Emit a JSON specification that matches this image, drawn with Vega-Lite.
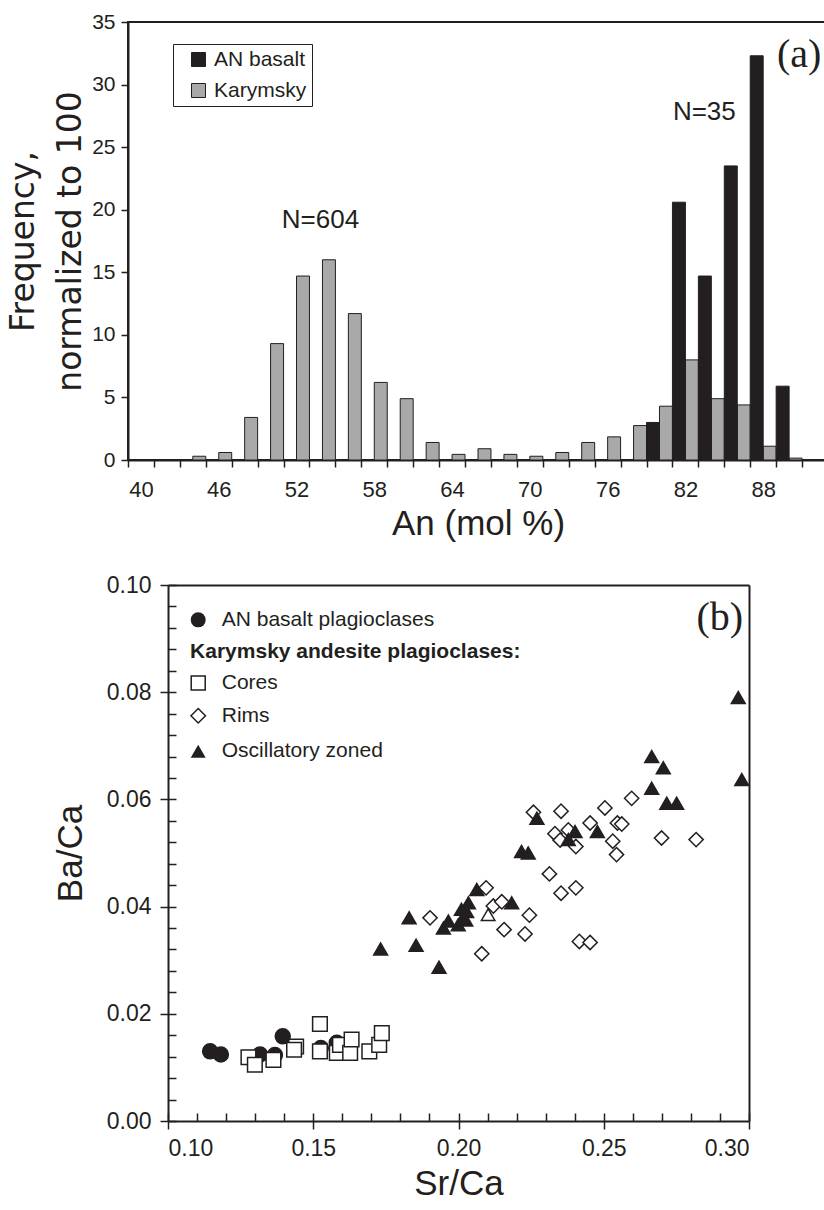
{
  "$schema": "https://vega.github.io/schema/vega-lite/v6.json",
  "background": "white",
  "padding": {"left": 6, "top": 10, "right": 0, "bottom": 0},
  "spacing": 32,
  "columns": 1,
  "resolve": {"scale": {"fill": "independent", "shape": "independent", "size": "independent"}, "legend": {"fill": "independent", "shape": "independent", "size": "independent"}},
  "datasets": {
    "hist": [
      {"An": 44, "series": "Karymsky", "freq": 0.3},
      {"An": 46, "series": "Karymsky", "freq": 0.6},
      {"An": 48, "series": "Karymsky", "freq": 3.4},
      {"An": 50, "series": "Karymsky", "freq": 9.3},
      {"An": 52, "series": "Karymsky", "freq": 14.7},
      {"An": 54, "series": "Karymsky", "freq": 16.0},
      {"An": 56, "series": "Karymsky", "freq": 11.7},
      {"An": 58, "series": "Karymsky", "freq": 6.2},
      {"An": 60, "series": "Karymsky", "freq": 4.9},
      {"An": 62, "series": "Karymsky", "freq": 1.4},
      {"An": 64, "series": "Karymsky", "freq": 0.45},
      {"An": 66, "series": "Karymsky", "freq": 0.9},
      {"An": 68, "series": "Karymsky", "freq": 0.45},
      {"An": 70, "series": "Karymsky", "freq": 0.3},
      {"An": 72, "series": "Karymsky", "freq": 0.6},
      {"An": 74, "series": "Karymsky", "freq": 1.4},
      {"An": 76, "series": "Karymsky", "freq": 1.85},
      {"An": 78, "series": "Karymsky", "freq": 2.75},
      {"An": 80, "series": "Karymsky", "freq": 4.3},
      {"An": 82, "series": "Karymsky", "freq": 8.0},
      {"An": 84, "series": "Karymsky", "freq": 4.9},
      {"An": 86, "series": "Karymsky", "freq": 4.4},
      {"An": 88, "series": "Karymsky", "freq": 1.1},
      {"An": 90, "series": "Karymsky", "freq": 0.15},
      {"An": 80, "series": "AN basalt", "freq": 3.0},
      {"An": 82, "series": "AN basalt", "freq": 20.6},
      {"An": 84, "series": "AN basalt", "freq": 14.7},
      {"An": 86, "series": "AN basalt", "freq": 23.5},
      {"An": 88, "series": "AN basalt", "freq": 32.3},
      {"An": 90, "series": "AN basalt", "freq": 5.9}
    ],
    "scatter": [
      {"type": "AN basalt plagioclases", "SrCa": 0.1145, "BaCa": 0.0130},
      {"type": "AN basalt plagioclases", "SrCa": 0.1182, "BaCa": 0.0124},
      {"type": "AN basalt plagioclases", "SrCa": 0.1317, "BaCa": 0.0124},
      {"type": "AN basalt plagioclases", "SrCa": 0.1368, "BaCa": 0.0123},
      {"type": "AN basalt plagioclases", "SrCa": 0.1395, "BaCa": 0.0158},
      {"type": "AN basalt plagioclases", "SrCa": 0.1526, "BaCa": 0.0136},
      {"type": "AN basalt plagioclases", "SrCa": 0.1581, "BaCa": 0.0146},
      {"type": "Cores", "SrCa": 0.1277, "BaCa": 0.0119},
      {"type": "Cores", "SrCa": 0.1299, "BaCa": 0.0105},
      {"type": "Cores", "SrCa": 0.1363, "BaCa": 0.0114},
      {"type": "Cores", "SrCa": 0.1441, "BaCa": 0.0139},
      {"type": "Cores", "SrCa": 0.1434, "BaCa": 0.0133},
      {"type": "Cores", "SrCa": 0.1523, "BaCa": 0.0181},
      {"type": "Cores", "SrCa": 0.1523, "BaCa": 0.0130},
      {"type": "Cores", "SrCa": 0.1581, "BaCa": 0.0127},
      {"type": "Cores", "SrCa": 0.1592, "BaCa": 0.0142},
      {"type": "Cores", "SrCa": 0.1627, "BaCa": 0.0127},
      {"type": "Cores", "SrCa": 0.1632, "BaCa": 0.0152},
      {"type": "Cores", "SrCa": 0.1693, "BaCa": 0.0130},
      {"type": "Cores", "SrCa": 0.1727, "BaCa": 0.0142},
      {"type": "Cores", "SrCa": 0.1736, "BaCa": 0.0164},
      {"type": "Rims", "SrCa": 0.1902, "BaCa": 0.0379},
      {"type": "Rims", "SrCa": 0.2080, "BaCa": 0.0312},
      {"type": "Rims", "SrCa": 0.2095, "BaCa": 0.0435},
      {"type": "Rims", "SrCa": 0.2120, "BaCa": 0.0401},
      {"type": "Rims", "SrCa": 0.2149, "BaCa": 0.0409},
      {"type": "Rims", "SrCa": 0.2157, "BaCa": 0.0357},
      {"type": "Rims", "SrCa": 0.2229, "BaCa": 0.0349},
      {"type": "Rims", "SrCa": 0.2244, "BaCa": 0.0384},
      {"type": "Rims", "SrCa": 0.2258, "BaCa": 0.0576},
      {"type": "Rims", "SrCa": 0.2313, "BaCa": 0.0461},
      {"type": "Rims", "SrCa": 0.2353, "BaCa": 0.0425},
      {"type": "Rims", "SrCa": 0.2404, "BaCa": 0.0435},
      {"type": "Rims", "SrCa": 0.2416, "BaCa": 0.0335},
      {"type": "Rims", "SrCa": 0.2453, "BaCa": 0.0333},
      {"type": "Rims", "SrCa": 0.2353, "BaCa": 0.0578},
      {"type": "Rims", "SrCa": 0.2332, "BaCa": 0.0536},
      {"type": "Rims", "SrCa": 0.2350, "BaCa": 0.0524},
      {"type": "Rims", "SrCa": 0.2378, "BaCa": 0.0543},
      {"type": "Rims", "SrCa": 0.2404, "BaCa": 0.0512},
      {"type": "Rims", "SrCa": 0.2453, "BaCa": 0.0556},
      {"type": "Rims", "SrCa": 0.2504, "BaCa": 0.0584},
      {"type": "Rims", "SrCa": 0.2531, "BaCa": 0.0522},
      {"type": "Rims", "SrCa": 0.2544, "BaCa": 0.0497},
      {"type": "Rims", "SrCa": 0.2547, "BaCa": 0.0556},
      {"type": "Rims", "SrCa": 0.2562, "BaCa": 0.0554},
      {"type": "Rims", "SrCa": 0.2596, "BaCa": 0.0602},
      {"type": "Rims", "SrCa": 0.2699, "BaCa": 0.0528},
      {"type": "Rims", "SrCa": 0.2818, "BaCa": 0.0525},
      {"type": "Oscillatory zoned", "SrCa": 0.1732, "BaCa": 0.0321},
      {"type": "Oscillatory zoned", "SrCa": 0.1830, "BaCa": 0.0379},
      {"type": "Oscillatory zoned", "SrCa": 0.1854, "BaCa": 0.0328},
      {"type": "Oscillatory zoned", "SrCa": 0.1933, "BaCa": 0.0287},
      {"type": "Oscillatory zoned", "SrCa": 0.1948, "BaCa": 0.0360},
      {"type": "Oscillatory zoned", "SrCa": 0.1965, "BaCa": 0.0373},
      {"type": "Oscillatory zoned", "SrCa": 0.1999, "BaCa": 0.0366},
      {"type": "Oscillatory zoned", "SrCa": 0.2010, "BaCa": 0.0395},
      {"type": "Oscillatory zoned", "SrCa": 0.2016, "BaCa": 0.0379},
      {"type": "Oscillatory zoned", "SrCa": 0.2025, "BaCa": 0.0375},
      {"type": "Oscillatory zoned", "SrCa": 0.2028, "BaCa": 0.0391},
      {"type": "Oscillatory zoned", "SrCa": 0.2034, "BaCa": 0.0407},
      {"type": "Oscillatory zoned", "SrCa": 0.2063, "BaCa": 0.0432},
      {"type": "Oscillatory zoned", "SrCa": 0.2183, "BaCa": 0.0407},
      {"type": "Oscillatory zoned", "SrCa": 0.2217, "BaCa": 0.0503},
      {"type": "Oscillatory zoned", "SrCa": 0.2240, "BaCa": 0.0500},
      {"type": "Oscillatory zoned", "SrCa": 0.2270, "BaCa": 0.0565},
      {"type": "Oscillatory zoned", "SrCa": 0.2378, "BaCa": 0.0525},
      {"type": "Oscillatory zoned", "SrCa": 0.2401, "BaCa": 0.0540},
      {"type": "Oscillatory zoned", "SrCa": 0.2478, "BaCa": 0.0540},
      {"type": "Oscillatory zoned", "SrCa": 0.2665, "BaCa": 0.0680},
      {"type": "Oscillatory zoned", "SrCa": 0.2705, "BaCa": 0.0659},
      {"type": "Oscillatory zoned", "SrCa": 0.2665, "BaCa": 0.0621},
      {"type": "Oscillatory zoned", "SrCa": 0.2717, "BaCa": 0.0593},
      {"type": "Oscillatory zoned", "SrCa": 0.2751, "BaCa": 0.0593},
      {"type": "Oscillatory zoned", "SrCa": 0.2963, "BaCa": 0.0790},
      {"type": "Oscillatory zoned", "SrCa": 0.2975, "BaCa": 0.0637},
      {"type": "Oscillatory zoned (open symbol)", "SrCa": 0.2102, "BaCa": 0.0385}
    ]
  },
  "concat": [
    {
      "width": 700,
      "height": 438,
      "view": {"stroke": "#231f20", "strokeWidth": 2},
      "resolve": {"axis": {"x": "independent", "y": "independent"}},
      "layer": [
        {
          "data": {"name": "hist"},
          "mark": {"type": "bar", "stroke": "#231f20", "strokeWidth": 1},
          "encoding": {
            "x": {
              "field": "An", "type": "ordinal",
              "scale": {"domain": [40,42,44,46,48,50,52,54,56,58,60,62,64,66,68,70,72,74,76,78,80,82,84,86,88,90,92], "paddingInner": 0, "paddingOuter": 0},
              "axis": {
                "orient": "bottom", "title": "An (mol %)", "tickBand": "extent", "labelAngle": 0,
                "labelExpr": "(datum.value - 40) % 6 == 0 && datum.value <= 88 ? datum.label : ''",
                "labelOverlap": false, "tickSize": 7, "tickWidth": 1.5, "domainWidth": 2,
                "labelFontSize": 22, "labelPadding": 12, "titleFontSize": 35, "titlePadding": 6
              }
            },
            "xOffset": {"field": "series", "type": "nominal", "scale": {"domain": ["AN basalt", "Karymsky"], "paddingInner": 0, "paddingOuter": 0}},
            "y": {
              "field": "freq", "type": "quantitative",
              "scale": {"domain": [0, 35], "nice": false},
              "axis": {
                "orient": "left", "title": ["Frequency,", "normalized to 100"], "values": [0,5,10,15,20,25,30,35],
                "tickSize": 7, "tickWidth": 1.5, "domainWidth": 2, "labelFontSize": 21, "labelPadding": 6,
                "titleFont": "DejaVu Sans", "titleFontSize": 33, "titleLineHeight": 47, "titlePadding": 4
              }
            },
            "fill": {
              "field": "series", "type": "nominal",
              "scale": {"domain": ["AN basalt", "Karymsky"], "range": ["#231f20", "#a9a9a9"]},
              "legend": {
                "orient": "none", "legendX": 45, "legendY": 22, "title": null, "direction": "vertical",
                "symbolType": "square", "symbolSize": 196, "symbolStrokeColor": "#231f20", "symbolStrokeWidth": 1,
                "labelFont": "Liberation Sans", "labelFontSize": 21, "labelColor": "#231f20", "labelOffset": 5,
                "rowPadding": 9, "padding": 5, "symbolOffset": 10, "strokeColor": "#231f20", "fillColor": "white", "cornerRadius": 0
              }
            }
          }
        },
        {
          "data": {"name": "hist"},
          "transform": [{"filter": "datum.An == 54 && datum.series == 'Karymsky'"}],
          "mark": {"type": "text", "fontSize": 26, "baseline": "middle", "align": "center", "dx": -2},
          "encoding": {
            "x": {"field": "An", "type": "ordinal", "axis": null},
            "y": {"datum": 19.2, "type": "quantitative", "axis": null},
            "text": {"value": "N=604"}
          }
        },
        {
          "data": {"name": "hist"},
          "transform": [{"filter": "datum.An == 84 && datum.series == 'AN basalt'"}],
          "mark": {"type": "text", "fontSize": 26, "baseline": "middle", "align": "center", "dx": -7},
          "encoding": {
            "x": {"field": "An", "type": "ordinal", "axis": null},
            "y": {"datum": 27.8, "type": "quantitative", "axis": null},
            "text": {"value": "N=35"}
          }
        },
        {
          "data": {"name": "hist"},
          "transform": [{"filter": "datum.An == 90 && datum.series == 'AN basalt'"}],
          "mark": {"type": "text", "font": "Liberation Serif", "fontSize": 40, "baseline": "middle", "align": "center", "dx": 10},
          "encoding": {
            "x": {"field": "An", "type": "ordinal", "axis": null},
            "y": {"datum": 32.4, "type": "quantitative", "axis": null},
            "text": {"value": "(a)"}
          }
        }
      ]
    },
    {
      "width": 621,
      "height": 536,
      "view": {"stroke": null},
      "resolve": {"axis": {"x": "independent", "y": "independent"}},
      "layer": [
        {
          "data": {"name": "scatter"},
          "mark": {"type": "point", "opacity": 1, "stroke": "#231f20", "strokeWidth": 1.5},
          "encoding": {
            "x": {
              "field": "SrCa", "type": "quantitative", "scale": {"domain": [0.1, 0.3], "range": [40, 621], "nice": false, "zero": false},
              "axis": {"orient": "bottom", "title": "Sr/Ca", "values": [0.1, 0.15, 0.2, 0.25, 0.3], "format": ".2f",
                       "tickSize": 8, "tickWidth": 1.5, "domainWidth": 2, "labelFontSize": 23, "labelPadding": 8,
                       "titleFontSize": 35, "titlePadding": 6}
            },
            "y": {
              "field": "BaCa", "type": "quantitative", "scale": {"domain": [0, 0.1], "nice": false},
              "axis": {"orient": "left", "offset": -40, "title": "Ba/Ca", "values": [0, 0.02, 0.04, 0.06, 0.08, 0.1], "format": ".2f",
                       "tickSize": 8, "tickWidth": 1.5, "domainWidth": 2, "labelFontSize": 23, "labelPadding": 9,
                       "titleFontSize": 35, "titlePadding": 18}
            },
            "shape": {
              "field": "type", "type": "nominal",
              "scale": {"domain": ["AN basalt plagioclases", "Cores", "Rims", "Oscillatory zoned", "Oscillatory zoned (open symbol)"],
                        "range": ["circle", "square", "diamond", "triangle-up", "triangle-up"]},
              "legend": null
            },
            "fill": {
              "field": "type", "type": "nominal",
              "scale": {"domain": ["AN basalt plagioclases", "Cores", "Rims", "Oscillatory zoned", "Oscillatory zoned (open symbol)"],
                        "range": ["#231f20", "white", "white", "#231f20", "white"]},
              "legend": null
            },
            "size": {
              "field": "type", "type": "ordinal",
              "scale": {"domain": ["AN basalt plagioclases", "Cores", "Rims", "Oscillatory zoned", "Oscillatory zoned (open symbol)"],
                        "range": [225, 182, 196, 225, 225]},
              "legend": null
            }
          }
        },
        {
          "data": {"values": [{}]},
          "mark": {"type": "point", "shape": "circle", "filled": true, "size": 225, "color": "#231f20", "opacity": 1},
          "encoding": {
            "x": {"datum": 0.1104, "type": "quantitative",
                  "axis": {"orient": "bottom", "values": [0.10,0.11,0.12,0.13,0.14,0.15,0.16,0.17,0.18,0.19,0.20,0.21,0.22,0.23,0.24,0.25,0.26,0.27,0.28,0.29,0.30],
                           "tickSize": -8, "tickWidth": 1.5, "labels": false, "domain": false, "title": null}},
            "y": {"datum": 0.0935, "type": "quantitative",
                  "axis": {"orient": "left", "offset": -40, "values": [0,0.004,0.008,0.012,0.016,0.02,0.024,0.028,0.032,0.036,0.04,0.044,0.048,0.052,0.056,0.06,0.064,0.068,0.072,0.076,0.08,0.084,0.088,0.092,0.096,0.1],
                           "tickSize": -8, "tickWidth": 1.5, "labels": false, "domain": false, "title": null}}
          }
        },
        {
          "data": {"values": [{}]},
          "mark": {"type": "text", "font": "Liberation Serif", "fontSize": 40, "baseline": "middle", "align": "right"},
          "encoding": {
            "x": {"datum": 0.298, "type": "quantitative",
                  "axis": {"orient": "top", "domain": true, "domainWidth": 2, "ticks": false, "labels": false, "title": null}},
            "y": {"datum": 0.0938, "type": "quantitative",
                  "axis": {"orient": "right", "domain": true, "domainWidth": 2, "ticks": false, "labels": false, "title": null}},
            "text": {"value": "(b)"}
          }
        },
        {
          "data": {"values": [{}]},
          "mark": {"type": "point", "shape": "square", "filled": true, "size": 196, "fill": "white", "stroke": "#231f20", "strokeWidth": 1.5, "opacity": 1},
          "encoding": {"x": {"datum": 0.1104, "type": "quantitative", "axis": null}, "y": {"datum": 0.0817, "type": "quantitative", "axis": null}}
        },
        {
          "data": {"values": [{}]},
          "mark": {"type": "point", "shape": "diamond", "filled": true, "size": 210, "fill": "white", "stroke": "#231f20", "strokeWidth": 1.5, "opacity": 1},
          "encoding": {"x": {"datum": 0.1104, "type": "quantitative", "axis": null}, "y": {"datum": 0.0756, "type": "quantitative", "axis": null}}
        },
        {
          "data": {"values": [{}]},
          "mark": {"type": "point", "shape": "triangle-up", "filled": true, "size": 225, "color": "#231f20", "opacity": 1},
          "encoding": {"x": {"datum": 0.1104, "type": "quantitative", "axis": null}, "y": {"datum": 0.0690, "type": "quantitative", "axis": null}}
        },
        {
          "data": {"values": [{}]},
          "mark": {"type": "text", "fontSize": 21, "align": "left", "baseline": "middle"},
          "encoding": {"x": {"datum": 0.1185, "type": "quantitative", "axis": null}, "y": {"datum": 0.0935, "type": "quantitative", "axis": null}, "text": {"value": "AN basalt plagioclases"}}
        },
        {
          "data": {"values": [{}]},
          "mark": {"type": "text", "fontSize": 21, "fontWeight": "bold", "align": "left", "baseline": "middle"},
          "encoding": {"x": {"datum": 0.1076, "type": "quantitative", "axis": null}, "y": {"datum": 0.0875, "type": "quantitative", "axis": null}, "text": {"value": "Karymsky andesite plagioclases:"}}
        },
        {
          "data": {"values": [{}]},
          "mark": {"type": "text", "fontSize": 21, "align": "left", "baseline": "middle"},
          "encoding": {"x": {"datum": 0.1185, "type": "quantitative", "axis": null}, "y": {"datum": 0.0817, "type": "quantitative", "axis": null}, "text": {"value": "Cores"}}
        },
        {
          "data": {"values": [{}]},
          "mark": {"type": "text", "fontSize": 21, "align": "left", "baseline": "middle"},
          "encoding": {"x": {"datum": 0.1185, "type": "quantitative", "axis": null}, "y": {"datum": 0.0756, "type": "quantitative", "axis": null}, "text": {"value": "Rims"}}
        },
        {
          "data": {"values": [{}]},
          "mark": {"type": "text", "fontSize": 21, "align": "left", "baseline": "middle"},
          "encoding": {"x": {"datum": 0.1185, "type": "quantitative", "axis": null}, "y": {"datum": 0.0690, "type": "quantitative", "axis": null}, "text": {"value": "Oscillatory zoned"}}
        }
      ]
    }
  ],
  "config": {
    "font": "Liberation Sans",
    "axis": {
      "grid": false, "domainColor": "#231f20", "tickColor": "#231f20", "labelColor": "#231f20", "titleColor": "#231f20",
      "titleFontWeight": "normal", "labelFont": "Liberation Sans", "titleFont": "Liberation Sans"
    },
    "text": {"font": "Liberation Sans", "color": "#231f20"}
  }
}
